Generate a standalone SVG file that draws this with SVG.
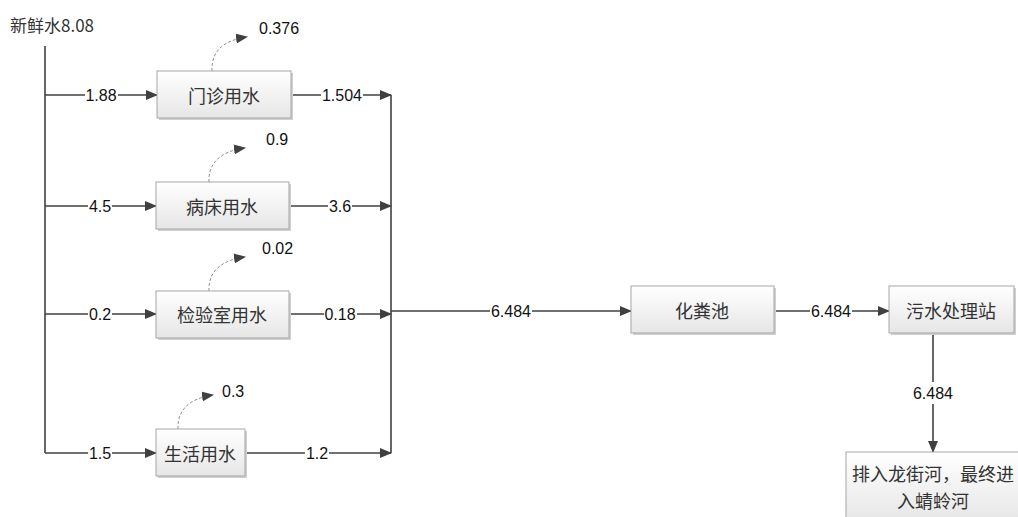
<svg xmlns="http://www.w3.org/2000/svg" width="1018" height="517" viewBox="0 0 1018 517">
<defs>
<linearGradient id="g" x1="0" y1="0" x2="0" y2="1"><stop offset="0" stop-color="#ffffff"/><stop offset="1" stop-color="#e6e6e6"/></linearGradient>
<marker id="ah" markerWidth="12" markerHeight="10" refX="11" refY="5" orient="auto" markerUnits="userSpaceOnUse"><path d="M0,0 L12,5 L0,10 Z" fill="#404040"/></marker>
<marker id="ahd" markerWidth="12" markerHeight="10" refX="11" refY="5" orient="auto" markerUnits="userSpaceOnUse"><path d="M0,0 L12,5 L0,10 Z" fill="#404040"/></marker>
<style>
.box{fill:url(#g);stroke:#a6a6a6;stroke-width:1}
.sh{fill:#d0d0d0}
.ln{fill:none;stroke:#404040;stroke-width:1.6}
.ds{fill:none;stroke:#909090;stroke-width:1;stroke-dasharray:3,2}
.bg{fill:#fff}
.cn{font-family:"Noto Sans CJK SC","Liberation Sans",sans-serif;font-size:18px;fill:#333;text-anchor:middle;dominant-baseline:central}
.lb{font-family:"Liberation Sans","Noto Sans CJK SC",sans-serif;font-size:16px;fill:#111;text-anchor:middle;dominant-baseline:central}
.nb{font-family:"Liberation Sans",sans-serif;font-size:16px;fill:#111;dominant-baseline:central}
</style>
</defs>
<text x="10" y="24" class="nb" style="font-family:'Noto Sans CJK SC','Liberation Sans',sans-serif;font-size:17px;fill:#333">新鲜水8.08</text>
<g id="connectors">
<path class="ln" d="M45,46 V453"/>
<path class="ln" d="M45,95 H157" marker-end="url(#ah)"/>
<path class="ln" d="M45,206 H156" marker-end="url(#ah)"/>
<path class="ln" d="M45,314 H156" marker-end="url(#ah)"/>
<path class="ln" d="M45,453 H156" marker-end="url(#ah)"/>
<path class="ln" d="M291,95 H391" marker-end="url(#ah)"/>
<path class="ln" d="M289,206 H391" marker-end="url(#ah)"/>
<path class="ln" d="M289,314 H391" marker-end="url(#ah)"/>
<path class="ln" d="M245,453 H391" marker-end="url(#ah)"/>
<path class="ln" d="M391,95 V453"/>
<path class="ln" d="M391,311 H631" marker-end="url(#ah)"/>
<path class="ln" d="M774,311 H889" marker-end="url(#ah)"/>
<path class="ln" d="M933,333 V452" marker-end="url(#ah)"/>
<path class="ds" d="M212,71 C211,50 225,40 247,37" marker-end="url(#ahd)"/>
<path class="ds" d="M209,182 C208,162 222,151 245,148" marker-end="url(#ahd)"/>
<path class="ds" d="M209,291 C208,271 222,260 245,257" marker-end="url(#ahd)"/>
<path class="ds" d="M178,429 C177,409 191,398 213,395" marker-end="url(#ahd)"/>
<rect class="bg" x="85" y="86" width="33" height="18"/><text class="lb" x="101" y="95">1.88</text>
<rect class="bg" x="88" y="197" width="24" height="18"/><text class="lb" x="100" y="206">4.5</text>
<rect class="bg" x="88" y="305" width="24" height="18"/><text class="lb" x="100" y="314">0.2</text>
<rect class="bg" x="88" y="444" width="24" height="18"/><text class="lb" x="100" y="453">1.5</text>
<rect class="bg" x="321" y="86" width="42" height="18"/><text class="lb" x="342" y="95">1.504</text>
<rect class="bg" x="328" y="197" width="24" height="18"/><text class="lb" x="340" y="206">3.6</text>
<rect class="bg" x="324" y="305" width="33" height="18"/><text class="lb" x="340" y="314">0.18</text>
<rect class="bg" x="305" y="444" width="24" height="18"/><text class="lb" x="317" y="453">1.2</text>
<rect class="bg" x="490" y="302" width="42" height="18"/><text class="lb" x="511" y="311">6.484</text>
<rect class="bg" x="810" y="302" width="42" height="18"/><text class="lb" x="831" y="311">6.484</text>
<rect class="bg" x="912" y="382" width="42" height="22"/><text class="lb" x="933" y="393">6.484</text>
<text class="nb" x="259" y="28">0.376</text>
<text class="nb" x="266" y="139">0.9</text>
<text class="nb" x="262" y="248">0.02</text>
<text class="nb" x="222" y="391">0.3</text>
</g>
<g id="n1"><rect class="sh" x="159" y="73" width="134" height="47"/><rect class="box" x="157" y="71" width="134" height="47"/><text class="cn" x="224" y="95">门诊用水</text></g>
<g id="n2"><rect class="sh" x="158" y="184" width="133" height="47"/><rect class="box" x="156" y="182" width="133" height="47"/><text class="cn" x="222" y="206">病床用水</text></g>
<g id="n3"><rect class="sh" x="158" y="293" width="133" height="47"/><rect class="box" x="156" y="291" width="133" height="47"/><text class="cn" x="222" y="314">检验室用水</text></g>
<g id="n4"><rect class="sh" x="158" y="431" width="89" height="47"/><rect class="box" x="156" y="429" width="89" height="47"/><text class="cn" x="200" y="453">生活用水</text></g>
<g id="n5"><rect class="sh" x="633" y="288" width="143" height="47"/><rect class="box" x="631" y="286" width="143" height="47"/><text class="cn" x="702" y="310">化粪池</text></g>
<g id="n6"><rect class="sh" x="891" y="288" width="125" height="47"/><rect class="box" x="889" y="286" width="125" height="47"/><text class="cn" x="951" y="310">污水处理站</text></g>
<g id="n7"><rect class="sh" x="848" y="454" width="174" height="70"/><rect class="box" x="846" y="452" width="174" height="70"/><text class="cn" x="933" y="473">排入龙街河，最终进</text><text class="cn" x="933" y="500">入蜻蛉河</text></g>
</svg>
